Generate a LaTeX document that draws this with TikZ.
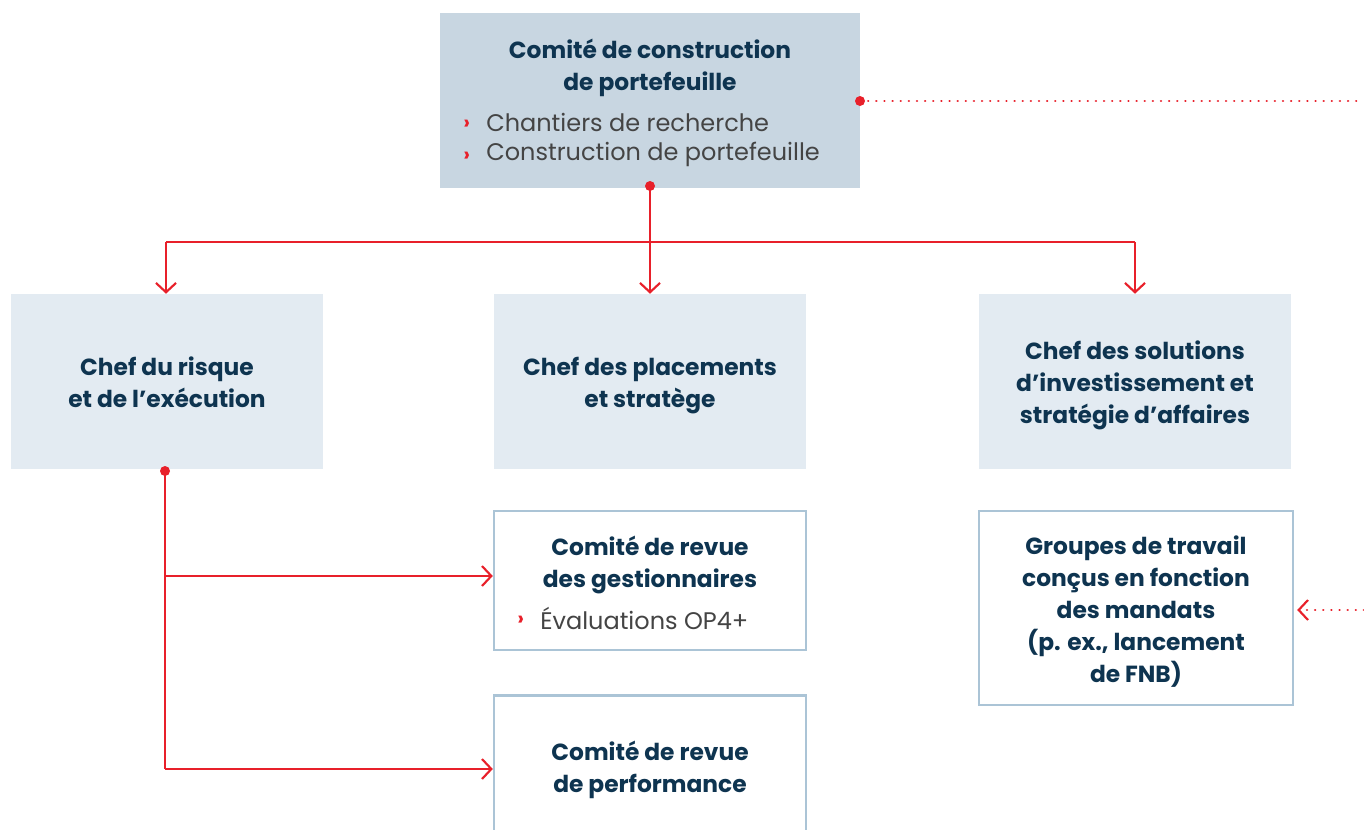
\documentclass[tikz,border=0pt]{standalone}
\usepackage{fontspec}
\setmainfont{Poppins}
\usetikzlibrary{arrows.meta,calc}
\definecolor{navy}{HTML}{0E3450}
\definecolor{cred}{HTML}{E8202A}
\definecolor{darkbox}{HTML}{C8D6E1}
\definecolor{lightbox}{HTML}{E3EBF2}
\definecolor{edgeblue}{HTML}{ABC4D6}
\definecolor{txtgray}{HTML}{444444}
\tikzset{
  boxbase/.style={rectangle, inner sep=0pt, minimum width=234pt, minimum height=131.25pt},
  darkbx/.style={boxbase, fill=darkbox, minimum width=315pt},
  lightbx/.style={boxbase, fill=lightbox},
  outlinebx/.style={boxbase, draw=edgeblue, line width=1.8pt, fill=white},
  head/.style={text=navy, font=\fontsize{17.5}{24}\selectfont\bfseries, align=center, inner sep=0pt},
  bul/.style={text=txtgray, font=\fontsize{18}{24}\selectfont, anchor=west, inner sep=0pt},
  chev/.style={text=cred, font=\fontsize{15}{24}\selectfont\bfseries, anchor=west, inner sep=0pt},
  conn/.style={draw=cred, line width=1.6pt},
  arr/.style={conn, -{Straight Barb[length=7pt, width=15pt, line width=1.6pt]}},
  dotline/.style={draw=cred, line width=1.8pt, dash pattern=on 0.1pt off 6pt, line cap=round},
  dotend/.style={circle, fill=cred, inner sep=0pt, minimum size=7.5pt},
}
\begin{document}
\begin{tikzpicture}[x=0.75pt,y=-0.75pt]
\useasboundingbox (0,0) rectangle (1364,829);
% boxes
\node[darkbx] (top) at (650,100.5) {};
\node[lightbx] (risk) at (167,381.5) {};
\node[lightbx] (plac) at (650,381.5) {};
\node[lightbx] (sol) at (1135,381.5) {};
\node[outlinebx, minimum height=104.25pt] (gest) at (650,580.5) {};
\node[outlinebx, minimum height=110pt] (perf) at (650,769) {};
\node[outlinebx, minimum width=235.5pt, minimum height=145.5pt] (grp) at (1136,608) {};
% texts
\node[head] (toph) at (650,68) {Comité de construction\\de portefeuille};
\node[chev] (c1) at (463,125) {›};
\node[bul] (b1) at (486,122) {Chantiers de recherche};
\node[chev] (c2) at (463,157) {›};
\node[bul] (b2) at (486,154.5) {Construction de portefeuille};
\node[head] (riskh) at (167,382) {Chef du risque\\et de l’exécution};
\node[head] (plach) at (650,386) {Chef des placements\\et stratège};
\node[head] (solh) at (1135,385) {Chef des solutions\\d’investissement et\\stratégie d’affaires};
\node[head] (gesth) at (650,565) {Comité de revue\\des gestionnaires};
\node[chev] (c3) at (517,621) {›};
\node[bul] (b3) at (540,618.5) {Évaluations OP4+};
\node[head] (perfh) at (650,770) {Comité de revue\\de performance};
\node[head] (grph) at (1136,612) {Groupes de travail\\conçus en fonction\\des mandats\\(p. ex., lancement\\de FNB)};
% connectors
\coordinate (topdot) at (650,186);
\coordinate (busL) at (166,242);
\coordinate (busM) at (650,242);
\coordinate (busR) at (1135,242);
\draw[conn] (busL) -- (busR);
\draw[arr] (topdot) -- (plac.north);
\draw[arr] (busL) -- (busL |- risk.north);
\draw[arr] (busR) -- (busR |- sol.north);
\node[dotend] (d1) at (topdot) {};
\coordinate (riskdot) at (165,471);
\coordinate (br1) at (165,576);
\coordinate (br2) at (165,769);
\draw[conn] (riskdot) -- (br2);
\draw[arr] (br1) -- (br1 -| gest.west);
\draw[arr] (br2) -- (br2 -| perf.west);
\node[dotend] (d2) at (riskdot) {};
\coordinate (rtop) at (1364,101);
\coordinate (rgrp) at (1364,610);
\coordinate (dot3) at (860,101);
\draw[dotline] (dot3) -- (rtop);
\node[dotend] (d3) at (dot3) {};
\draw[dotline, -{Straight Barb[length=7pt, width=15pt, line width=1.6pt]}] (rgrp) -- ($(grp.east |- rgrp)+(3,0)$);
\end{tikzpicture}
\end{document}
